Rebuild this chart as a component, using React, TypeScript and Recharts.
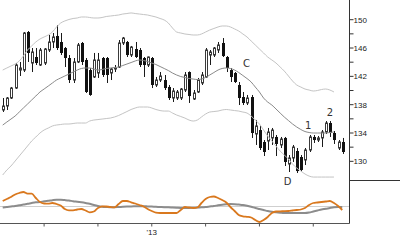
import { Bar, ComposedChart, Line, ReferenceDot, ReferenceLine, XAxis, YAxis } from "recharts";

const FONT = "'Liberation Sans', Arial, sans-serif";

// weekly candles, oldest first
const opens = [
  137.25, 137.81, 138.94, 140.35, 142.89, 142.89, 148.26, 143.88, 144.73, 143.6,
  143.88, 145.72, 146.85, 147.7, 146.85, 146.0, 144.59, 141.48, 144.03, 146.71,
  144.31, 142.89, 141.91, 142.47, 144.59, 144.59, 142.47, 143.04, 143.32, 146.71,
  146.85, 145.01, 145.86, 145.72, 144.59, 143.6, 144.59, 140.78, 141.48, 141.48,
  140.5, 138.94, 138.94, 138.94, 140.07, 142.61, 138.8, 139.79, 141.06, 141.91,
  145.01, 145.01, 145.72, 146.71, 144.73, 142.89, 142.47, 140.78, 139.08, 138.24,
  139.08, 133.86, 134.42, 132.73, 132.87, 133.3, 133.44, 132.31, 133.3, 129.62,
  130.47, 131.46, 130.61, 130.19, 131.6, 133.44, 133.01, 133.3, 134.14, 135.41,
  134.0, 131.88, 132.73,
];
const highs = [
  138.94, 139.08, 140.5, 143.88, 144.03, 148.26, 148.4, 146.0, 146.0, 146.0,
  146.0, 147.84, 148.12, 149.25, 148.12, 146.14, 145.01, 144.59, 146.71, 146.85,
  144.59, 143.18, 145.3, 145.3, 144.73, 144.73, 143.18, 143.6, 147.13, 147.56,
  146.99, 146.29, 146.85, 146.0, 144.73, 144.8, 144.73, 141.91, 142.61, 142.19,
  140.78, 140.35, 140.07, 140.35, 142.61, 142.7, 140.07, 141.77, 142.61, 146.0,
  145.72, 146.14, 146.85, 147.41, 144.87, 143.18, 142.61, 141.2, 139.79, 139.37,
  139.37, 135.84, 135.13, 133.01, 134.71, 134.71, 133.72, 133.44, 133.44, 130.89,
  132.31, 131.88, 130.89, 131.88, 133.72, 133.72, 133.58, 134.42, 135.69, 135.69,
  134.28, 133.01, 133.3,
];
const lows = [
  136.97, 137.25, 138.8, 140.21, 142.05, 142.61, 144.03, 142.61, 143.6, 143.46,
  143.6, 145.44, 146.0, 145.72, 145.01, 143.32, 141.06, 141.06, 143.88, 143.6,
  139.65, 139.25, 141.77, 141.77, 141.91, 141.06, 141.48, 142.61, 143.18, 146.43,
  144.73, 144.73, 144.59, 143.32, 141.91, 143.32, 140.35, 140.5, 141.2, 140.07,
  138.66, 138.38, 138.66, 138.66, 139.79, 138.24, 138.66, 139.65, 140.78, 141.77,
  143.6, 144.73, 145.3, 144.73, 142.61, 141.2, 141.06, 137.95, 137.95, 137.95,
  133.3, 132.31, 131.6, 130.75, 131.6, 132.31, 130.75, 131.88, 129.34, 128.49,
  129.91, 128.35, 128.49, 129.48, 131.32, 132.59, 132.73, 132.02, 133.86, 133.44,
  132.45, 131.6, 131.04,
];
const closes = [
  137.81, 138.94, 140.35, 143.6, 143.18, 148.12, 145.3, 145.44, 143.88, 145.72,
  145.86, 146.85, 147.56, 146.0, 145.3, 144.59, 141.48, 144.03, 146.43, 144.03,
  139.79, 139.37, 144.31, 144.31, 142.19, 142.19, 143.04, 143.18, 146.71, 147.41,
  145.01, 146.14, 144.73, 143.6, 143.6, 144.73, 140.78, 141.48, 142.05, 140.35,
  138.94, 139.93, 139.79, 140.21, 142.19, 139.22, 139.65, 141.48, 142.19, 145.72,
  145.44, 146.0, 146.43, 144.87, 143.18, 141.91, 141.2, 138.94, 138.24, 138.94,
  134.0, 134.99, 131.88, 131.32, 134.14, 134.42, 132.45, 133.15, 129.91, 130.47,
  132.02, 128.63, 128.78, 131.6, 133.44, 133.01, 133.3, 134.14, 135.41, 134.0,
  133.01, 132.73, 131.32,
];

// envelope bands (last two weeks not drawn)
const upperBand = [
  142.89, 143.18, 143.46, 143.74, 144.17, 144.87, 145.72, 146.29, 146.85, 147.27,
  147.56, 147.84, 148.26, 148.97, 149.53, 149.82, 150.03, 150.17, 150.24, 150.38,
  150.38, 150.31, 150.24, 150.24, 150.31, 150.45, 150.52, 150.59, 150.66, 150.8,
  150.87, 150.95, 150.87, 150.8, 150.73, 150.66, 150.52, 150.38, 150.17, 149.96,
  149.53, 148.83, 148.26, 148.12, 147.98, 147.91, 147.84, 147.84, 147.98, 148.26,
  148.54, 148.76, 148.97, 149.11, 149.11, 148.97, 148.69, 148.4, 147.98, 147.56,
  146.99, 146.43, 145.86, 145.3, 144.73, 144.31, 143.88, 143.32, 142.75, 142.05,
  141.34, 140.78, 140.49, 140.21, 140.07, 139.93, 140.0, 140.14, 140.21, 140.07,
  139.79,
];
const midBand = [
  135.12, 135.55, 135.97, 136.4, 136.96, 137.53, 138.09, 138.66, 139.22, 139.79,
  140.21, 140.63, 141.06, 141.48, 141.77, 142.05, 142.33, 142.61, 142.89, 143.11,
  143.18, 143.18, 143.04, 142.89, 142.97, 143.11, 143.18, 143.25, 143.32, 143.53,
  143.74, 143.95, 144.17, 144.31, 144.24, 144.1, 143.88, 143.67, 143.39, 143.11,
  142.82, 142.47, 142.19, 141.97, 141.84, 141.69, 141.62, 141.55, 141.62, 141.84,
  142.19, 142.54, 142.89, 143.11, 143.18, 143.11, 142.89, 142.54, 142.12, 141.69,
  141.2, 140.49, 139.79, 138.94, 138.37, 137.95, 137.39, 136.82, 136.26, 135.76,
  135.27, 134.85, 134.49, 134.21, 134.07, 134.0, 134.0, 134.0, 134.0, 134.07,
  134.14,
];
const lowerBand = [
  128.07, 128.77, 129.34, 130.04, 130.75, 131.45, 132.16, 132.87, 133.43, 134.0,
  134.42, 134.7, 134.99, 135.13, 135.2, 135.27, 135.27, 135.34, 135.41, 135.41,
  135.41, 135.69, 135.83, 135.9, 135.97, 136.04, 136.11, 136.26, 136.47, 136.75,
  137.03, 137.32, 137.53, 137.67, 137.67, 137.67, 137.53, 137.32, 137.17, 137.1,
  137.1, 136.82, 136.54, 136.33, 136.11, 135.83, 135.69, 135.83, 136.26, 136.68,
  136.96, 137.03, 137.1, 137.25, 137.32, 137.25, 137.17, 137.1, 136.96, 136.82,
  136.4, 135.83, 135.27, 134.42, 133.57, 132.87, 132.16, 131.45, 130.89, 130.33,
  129.62, 129.05, 128.63, 128.21, 127.92, 127.78, 127.78, 127.78, 127.78, 127.78,
  127.78,
];

// lower panel oscillators
const oscFast = [
  5.5, 7.5, 9.5, 12, 13.5, 14.5, 12.8, 12.8, 8.5, 4.5,
  3, 2.8, 3.5, 2.5, 1, -2.5, -3.8, -3.8, -3, -2.5,
  -4, -5.8, -5, -1.5, 0.2, 0, -0.5, -0.8, 2.5, 5.5,
  5.5, 4.2, 3, 1.5, 0, -2.5, -4.5, -6.2, -6.5, -6.5,
  -6.5, -6.5, -6.5, -3.5, -0.5, -1, -1.5, -1, 3.5, 7.5,
  9.5, 10, 8.5, 6.5, 4, -0.5, -4.5, -8.5, -9.8, -10.3,
  -11, -13.5, -15.5, -13.5, -10.5, -6.5, -5, -4.8, -4.7, -4.5,
  -4, -3.5, -3, -1.5, 1.5, 3.5, 4, 4.5, 5, 5.5,
  3.5, 0.5, -3.5,
];
const oscSlow = [
  -1, -0.5, 0, 0.5, 1.2, 2, 2.7, 3.5, 4.2, 4.5,
  5.2, 5.7, 6.3, 6.7, 6.7, 6.4, 6, 5.3, 4.8, 4.2,
  3.5, 2.7, 1.5, 0.5, -0.2, -0.5, -0.7, -0.7, -0.5, -0.3,
  -0.1, 0.1, 0.2, 0.3, 0.3, 0.1, -0.1, -0.3, -0.5, -0.7,
  -0.8, -1, -1.2, -1.4, -1.5, -1.5, -1.3, -1, -0.8, -0.5,
  0, 0.5, 1.2, 1.8, 2.2, 2.5, 2.3, 1.9, 1.5, 0.7,
  -0.3, -1.5, -2.5, -3.5, -4.5, -5.3, -5.8, -6.2, -6.5, -6.5,
  -6.5, -6.5, -6.5, -6.5, -6, -5, -4, -3, -2.3, -1.5,
  -0.8, -0.5, -0.5,
];

const xTicks = [10, 23, 36, 49, 62, 75];
const xTickLabels = ["", "", "'13", "", "", ""];
const yTicks = [130, 132, 134, 136, 138, 140, 142, 144, 146, 148, 150];

const noteText = ["C", "D", "1", "2"];
const noteX = [58.9, 68.8, 73.8, 79];
const noteY = [143.84, 127.13, 135.03, 136.92];

const X_DOMAIN: [number, number] = [-0.652, 83.75];

const rows = opens.map((o, i) => ({
  i,
  open: o,
  high: highs[i],
  low: lows[i],
  close: closes[i],
  range: [lows[i], highs[i]],
  upper: upperBand[i] ?? null,
  mid: midBand[i] ?? null,
  lower: lowerBand[i] ?? null,
  fast: oscFast[i],
  slow: oscSlow[i],
}));

const Candle = (props: any) => {
  const { x, y, width, height, payload } = props;
  if (x == null || y == null) return null;
  const top = Math.min(y, y + height);
  const h = Math.abs(height);
  const { open, close, high, low } = payload;
  const k = h / (high - low || 1);
  const py = (v: number) => top + (high - v) * k;
  const cx = Math.round(x + width / 2) + 0.5;
  const bTop = py(Math.max(open, close));
  const bH = Math.max(py(Math.min(open, close)) - bTop, 1);
  return (
    <g>
      <line x1={cx} x2={cx} y1={top} y2={top + h} stroke="#1a1a1a" />
      {close >= open ? (
        <rect x={cx - 1} y={bTop} width={2} height={bH} fill="#fff" stroke="#3a3a3a" />
      ) : (
        <rect x={cx - 1.5} y={bTop} width={3} height={bH} fill="#111" />
      )}
    </g>
  );
};

const PriceTick = ({ x, y, payload }: any) =>
  (payload.value - 130) % 4 === 0 ? (
    <text x={x} y={y} dy={3} fontSize={8} fill="#222" fontFamily={FONT} textAnchor="start">
      {payload.value}
    </text>
  ) : (
    <g />
  );

export default function App() {
  return (
    <div style={{ position: "absolute", left: 0, top: 0, width: 400, height: 241, background: "#fff" }}>
      <div style={{ position: "absolute", left: 0, top: 0 }}>
        <ComposedChart width={400} height={192} data={rows} margin={{ top: 0, right: 0, bottom: 0, left: 0 }}>
          <XAxis type="number" dataKey="i" domain={X_DOMAIN} hide allowDataOverflow />
          <YAxis
            orientation="right"
            width={50.5}
            domain={[125.67, 152.78]}
            allowDataOverflow
            ticks={yTicks}
            interval={0}
            tickSize={4}
            tickMargin={0}
            axisLine={{ stroke: "#333" }}
            tickLine={{ stroke: "#333" }}
            tick={<PriceTick />}
          />
          <Line type="monotone" dataKey="upper" stroke="#c4c4c4" strokeWidth={1} dot={false} activeDot={false} legendType="none" isAnimationActive={false} />
          <Line type="monotone" dataKey="lower" stroke="#c4c4c4" strokeWidth={1} dot={false} activeDot={false} legendType="none" isAnimationActive={false} />
          <Line type="monotone" dataKey="mid" stroke="#8a8a8a" strokeWidth={1} dot={false} activeDot={false} legendType="none" isAnimationActive={false} />
          <Bar dataKey="range" barSize={3} shape={(p: any) => <Candle {...p} />} activeBar={false} isAnimationActive={false} />
          {noteText.map((t, k) => (
            <ReferenceDot
              key={t}
              x={noteX[k]}
              y={noteY[k]}
              r={1}
              fill="none"
              stroke="none"
              ifOverflow="visible"
              label={{ value: t, position: "center", fill: "#333", fontSize: 10, fontFamily: "'DejaVu Sans', sans-serif" }}
            />
          ))}
        </ComposedChart>
      </div>
      <div style={{ position: "absolute", left: 350, top: 180, width: 50, height: 1, background: "#333" }} />
      <div style={{ position: "absolute", left: 0, top: 181 }}>
        <ComposedChart width={400} height={60} data={rows} margin={{ top: 0, right: 0, bottom: 0, left: 0 }}>
          <XAxis
            type="number"
            dataKey="i"
            domain={X_DOMAIN}
            allowDataOverflow
            ticks={xTicks}
            interval={0}
            height={17.5}
            tickSize={3}
            tickMargin={3}
            tickFormatter={(v: number) => xTickLabels[xTicks.indexOf(v)] ?? ""}
            axisLine={{ stroke: "#555" }}
            tickLine={{ stroke: "#555" }}
            tick={{ fontSize: 8, fill: "#222", fontFamily: FONT }}
          />
          <YAxis
            orientation="right"
            width={50.5}
            domain={[-17, 25.5]}
            allowDataOverflow
            tick={false}
            tickLine={false}
            axisLine={{ stroke: "#333" }}
          />
          <ReferenceLine y={0} stroke="#cfcfcf" />
          <Line type="monotone" dataKey="slow" stroke="#8c8c8c" strokeWidth={2} dot={false} activeDot={false} isAnimationActive={false} />
          <Line type="monotone" dataKey="fast" stroke="#d9781e" strokeWidth={1.8} dot={false} activeDot={false} isAnimationActive={false} />
        </ComposedChart>
      </div>
    </div>
  );
}
